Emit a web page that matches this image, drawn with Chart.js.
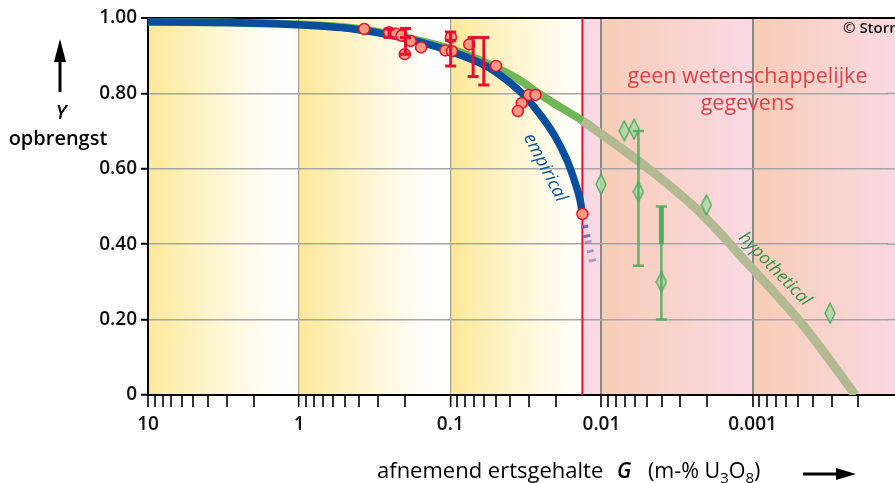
<!DOCTYPE html>
<html>
<head>
<meta charset="utf-8">
<script src="https://cdn.jsdelivr.net/npm/chart.js@4.4.1/dist/chart.umd.min.js"></script>
<style>
  html, body { margin: 0; padding: 0; background: #fff; }
  #wrap { width: 895px; height: 483px; }
</style>
</head>
<body>
<div id="wrap"><canvas id="chart" width="895" height="483"></canvas></div>
<script>
// ore grade G (m-% U3O8) on a reversed log axis, yield Y
const decadeValues = [10, 1, 0.1, 0.01, 0.001];
const decadeLabels = ['10', '1', '0.1', '0.01', '0.001'];
const yTickValues = [0, 0.2, 0.4, 0.6, 0.8, 1.0];
const yTickLabels = ['0', '0.20', '0.40', '0.60', '0.80', '1.00'];

const xMin = 0.000127;
const xMax = 10;
const cutoffGrade = 0.01336;

// empirical curve (blue)
const empiricalG = [10, 3, 1, 0.46, 0.22, 0.1, 0.0557, 0.0411, 0.0319, 0.0248, 0.0202, 0.0169, 0.0149, 0.01384, 0.01336];
const empiricalY = [0.99, 0.988, 0.982, 0.972, 0.95, 0.912, 0.869, 0.831, 0.791, 0.738, 0.685, 0.623, 0.562, 0.517, 0.48];

// hypothetical curve, green part and the part past the cut-off
const hypoG = [10, 3, 1, 0.46, 0.22, 0.1, 0.05, 0.0337, 0.0261, 0.01336];
const hypoY = [0.99, 0.988, 0.983, 0.974, 0.952, 0.918, 0.869, 0.832, 0.80, 0.728];
const hypoExtG = [0.01336, 0.00546, 0.0023, 0.00103, 0.000453, 0.000209];
const hypoExtY = [0.728, 0.615, 0.49, 0.34, 0.18, 0.0];

// dashed tail below the last measured point
const tailG = [0.01333, 0.0123, 0.0113];
const tailY = [0.475, 0.41, 0.345];

// measured points (red)
const measG = [0.371, 0.254, 0.228, 0.21, 0.183, 0.2, 0.156, 0.099, 0.1076, 0.0975, 0.0749, 0.0498, 0.0302, 0.0273, 0.0337, 0.0357, 0.01335];
const measY = [0.971, 0.962, 0.958, 0.953, 0.939, 0.904, 0.922, 0.949, 0.914, 0.912, 0.930, 0.873, 0.796, 0.796, 0.774, 0.753, 0.48];
const measErrG = [0.254, 0.1977, 0.0995, 0.0706, 0.06];
const measErrLo = [0.948, 0.904, 0.873, 0.845, 0.822];
const measErrHi = [0.971, 0.972, 0.963, 0.948, 0.948];
const measMidG = [0.1977, 0.0995];
const measMidY = [0.948, 0.94];

// claimed points (green diamonds)
const claimG = [0.01007, 0.00706, 0.00607, 0.00569, 0.00401, 0.00202, 0.000307];
const claimY = [0.559, 0.701, 0.705, 0.539, 0.30, 0.504, 0.217];
const claimErrG = [0.00569, 0.00401];
const claimErrLo = [0.343, 0.20];
const claimErrHi = [0.70, 0.50];
const claimBandG = [0.00401];
const claimBandLo = [0.40];
const claimBandHi = [0.50];

const FONT = "'Open Sans', 'DejaVu Sans', sans-serif";

function pts(gs, ys) {
  return gs.map((g, i) => ({ x: g, y: ys[i] }));
}

function makeDiamond() {
  const c = document.createElement('canvas');
  c.width = 12; c.height = 22;
  const g = c.getContext('2d');
  g.beginPath();
  g.moveTo(6, 1); g.lineTo(11, 11); g.lineTo(6, 21); g.lineTo(1, 11);
  g.closePath();
  g.fillStyle = 'rgba(172,216,164,0.85)';
  g.fill();
  g.strokeStyle = '#45a85a';
  g.lineWidth = 1.3;
  g.stroke();
  return c;
}

function isDecade(v) {
  return decadeValues.findIndex(d => Math.abs(d - v) / d < 1e-6);
}

const bands = {
  id: 'bands',
  beforeDraw(chart) {
    const { ctx, chartArea: a, scales: { x } } = chart;
    const right = chart.width;
    ctx.save();
    ctx.fillStyle = '#fff';
    ctx.fillRect(0, 0, chart.width, chart.height);
    const cut = x.getPixelForValue(cutoffGrade);
    [[10, 1], [1, 0.1], [0.1, 0.01]].forEach(([v0, v1]) => {
      const x0 = x.getPixelForValue(v0), x1 = x.getPixelForValue(v1);
      const g = ctx.createLinearGradient(x0, 0, x1, 0);
      g.addColorStop(0, 'rgb(253,232,152)');
      g.addColorStop(0.35, 'rgb(254,243,198)');
      g.addColorStop(0.8, 'rgb(255,254,248)');
      g.addColorStop(1, '#fff');
      ctx.fillStyle = g;
      ctx.fillRect(x0, a.top, Math.min(x1, cut) - x0, a.bottom - a.top);
    });
    ctx.fillStyle = 'rgb(249,217,228)';
    ctx.fillRect(cut, a.top, right - cut, a.bottom - a.top);
    [[0.01, 0.001], [0.001, 0.0001]].forEach(([v0, v1]) => {
      const x0 = x.getPixelForValue(v0), x1 = x.getPixelForValue(v1);
      const g = ctx.createLinearGradient(x0, 0, x1, 0);
      g.addColorStop(0, 'rgba(248,205,182,1)');
      g.addColorStop(1, 'rgba(248,205,182,0)');
      ctx.fillStyle = g;
      ctx.fillRect(x0, a.top, Math.min(x1, right) - x0, a.bottom - a.top);
    });
    ctx.restore();
  },
  beforeDatasetsDraw(chart) {
    const { ctx, chartArea: a, scales: { x, y } } = chart;
    const cut = x.getPixelForValue(cutoffGrade);
    ctx.save();
    // carry the frame and grid to the canvas edge
    yTickValues.forEach(v => {
      const py = y.getPixelForValue(v);
      const edge = v === 0 || v === 1;
      ctx.strokeStyle = edge ? '#000' : '#a6a6a6';
      ctx.lineWidth = edge ? 2 : 1.5;
      ctx.beginPath();
      ctx.moveTo(a.right - 1, py);
      ctx.lineTo(chart.width, py);
      ctx.stroke();
    });
    ctx.strokeStyle = '#e3102f';
    ctx.lineWidth = 2;
    ctx.beginPath();
    ctx.moveTo(cut, a.top);
    ctx.lineTo(cut, a.bottom);
    ctx.stroke();
    ctx.restore();
  }
};

function drawBars(chart, gs, lo, hi, color, width, cap) {
  const { ctx, scales: { x, y } } = chart;
  ctx.save();
  ctx.strokeStyle = color;
  ctx.lineWidth = width;
  gs.forEach((g, i) => {
    const px = x.getPixelForValue(g);
    const y0 = y.getPixelForValue(lo[i]), y1 = y.getPixelForValue(hi[i]);
    ctx.beginPath();
    ctx.moveTo(px, y0); ctx.lineTo(px, y1);
    if (cap) {
      ctx.moveTo(px - cap / 2, y0); ctx.lineTo(px + cap / 2, y0);
      ctx.moveTo(px - cap / 2, y1); ctx.lineTo(px + cap / 2, y1);
    }
    ctx.stroke();
  });
  ctx.restore();
}

const errorBars = {
  id: 'errorBars',
  afterDatasetsDraw(chart) {
    drawBars(chart, measErrG, measErrLo, measErrHi, '#e3102f', 3, 11);
    drawBars(chart, measMidG, measMidY, measMidY, '#e3102f', 3, 11);
    drawBars(chart, claimErrG, claimErrLo, claimErrHi, 'rgba(70,172,88,0.85)', 2.5, 11);
    drawBars(chart, claimBandG, claimBandLo, claimBandHi, 'rgba(70,172,88,0.85)', 5, 0);
  }
};

function rotatedText(ctx, text, px, py, deg, font, color) {
  ctx.save();
  ctx.translate(px, py);
  ctx.rotate(deg * Math.PI / 180);
  ctx.font = font;
  ctx.fillStyle = color;
  ctx.textAlign = 'center';
  ctx.textBaseline = 'middle';
  ctx.fillText(text, 0, 0);
  ctx.restore();
}

const texts = {
  id: 'texts',
  afterDraw(chart) {
    const { ctx, scales: { x, y } } = chart;
    ctx.save();
    // no-data note
    ctx.font = '21.5px ' + FONT;
    ctx.fillStyle = '#d8434b';
    ctx.textAlign = 'center';
    ctx.textBaseline = 'middle';
    ctx.fillText('geen wetenschappelijke', x.getPixelForValue(0.00108), y.getPixelForValue(0.843));
    ctx.fillText('gegevens', x.getPixelForValue(0.00108), y.getPixelForValue(0.771));

    // curve labels
    rotatedText(ctx, 'empirical', x.getPixelForValue(0.0236), y.getPixelForValue(0.603), 62.7,
      'italic 18px ' + FONT, '#0a52a0');
    rotatedText(ctx, 'hypothetical', x.getPixelForValue(0.000714), y.getPixelForValue(0.334), 45.8,
      'italic 17.5px ' + FONT, '#2f9447');

    // copyright
    ctx.font = '600 15px ' + FONT;
    ctx.fillStyle = '#111';
    ctx.textAlign = 'left';
    ctx.textBaseline = 'alphabetic';
    ctx.fillText('\u00A9 Storm van Leeuwen', 843, 33);

    // y title
    ctx.fillStyle = '#000';
    ctx.strokeStyle = '#000';
    ctx.lineWidth = 3;
    ctx.beginPath(); ctx.moveTo(60, 92); ctx.lineTo(60, 58); ctx.stroke();
    ctx.beginPath(); ctx.moveTo(60, 39); ctx.lineTo(54, 62); ctx.lineTo(66, 62); ctx.closePath(); ctx.fill();
    ctx.textAlign = 'center';
    ctx.textBaseline = 'middle';
    ctx.font = 'italic 600 20px ' + FONT;
    ctx.fillText('Y', 61, 113);
    ctx.font = '600 20px ' + FONT;
    ctx.fillText('opbrengst', 58, 139);

    // x title
    ctx.textAlign = 'left';
    ctx.textBaseline = 'alphabetic';
    const base = 478;
    ctx.font = '500 22px ' + FONT;
    ctx.fillText('afnemend ertsgehalte', 377, base);
    ctx.font = 'italic 600 21px ' + FONT;
    ctx.fillText('G', 617, base);
    let cx = 648;
    const parts = [['(m-% U', false], ['3', true], ['O', false], ['8', true], [')', false]];
    parts.forEach(([t, sub]) => {
      ctx.font = sub ? '500 15px ' + FONT : '500 21.5px ' + FONT;
      ctx.fillText(t, cx, sub ? base + 5 : base);
      cx += ctx.measureText(t).width;
    });
    ctx.lineWidth = 3;
    ctx.beginPath(); ctx.moveTo(803, 474); ctx.lineTo(840, 474); ctx.stroke();
    ctx.beginPath(); ctx.moveTo(856, 474); ctx.lineTo(836, 468); ctx.lineTo(836, 480); ctx.closePath(); ctx.fill();
    ctx.restore();
  }
};

const diamond = makeDiamond();

new Chart(document.getElementById('chart'), {
  type: 'scatter',
  data: {
    datasets: [
      {
        data: pts(measG, measY),
        pointRadius: 5.5,
        pointBackgroundColor: '#f39a80',
        pointBorderColor: '#e3122c',
        pointBorderWidth: 1.5,
        order: 0
      },
      {
        data: pts(claimG, claimY),
        pointStyle: diamond,
        order: 1
      },
      {
        type: 'line',
        data: pts(tailG, tailY),
        borderColor: 'rgba(112,96,168,0.9)',
        segment: {
          borderColor: c => (c.p0DataIndex === 0 ? 'rgba(112,96,168,0.9)' : 'rgba(112,96,168,0.55)')
        },
        borderWidth: 7,
        borderDash: [3, 6.5],
        borderCapStyle: 'butt',
        pointRadius: 0,
        order: 2
      },
      {
        type: 'line',
        data: pts(empiricalG, empiricalY),
        borderColor: '#0a4f9e',
        borderWidth: 7.5,
        cubicInterpolationMode: 'monotone',
        pointRadius: 0,
        order: 3
      },
      {
        type: 'line',
        data: pts(hypoG, hypoY),
        borderColor: '#70b656',
        borderWidth: 8,
        cubicInterpolationMode: 'monotone',
        pointRadius: 0,
        order: 4
      },
      {
        type: 'line',
        data: pts(hypoExtG, hypoExtY),
        borderColor: '#b3ba92',
        borderWidth: 9,
        cubicInterpolationMode: 'monotone',
        pointRadius: 0,
        order: 5
      }
    ]
  },
  options: {
    responsive: false,
    animation: false,
    devicePixelRatio: 1,
    layout: { padding: { top: 18, left: 0, right: 0, bottom: 0 } },
    plugins: { legend: { display: false }, tooltip: { enabled: false } },
    scales: {
      x: {
        type: 'logarithmic',
        reverse: true,
        bounds: 'data',
        min: xMin,
        max: xMax,
        afterFit(scale) {
          scale.height = 88;
          scale.paddingLeft = 0;
          scale.paddingRight = 0;
        },
        afterBuildTicks(scale) {
          const list = [];
          [1, 0.1, 0.01, 0.001, 0.0001].forEach(d => {
            for (let m = 10; m >= 1; m--) {
              const v = +(d * m).toPrecision(6);
              if (v >= xMin && v <= xMax && !list.some(t => Math.abs(t.value - v) / v < 1e-9)) {
                list.push({ value: v });
              }
            }
          });
          scale.ticks = list;
        },
        border: { display: true, color: '#000', width: 2 },
        grid: {
          color: c => {
            const i = isDecade(c.tick.value);
            if (i <= 0) return 'rgba(0,0,0,0)';
            return i <= 2 ? '#aaa69a' : '#8a8a8a';
          },
          lineWidth: c => {
            const i = isDecade(c.tick.value);
            return i <= 0 ? 0 : (i <= 2 ? 1.3 : 2);
          },
          tickColor: '#000',
          tickWidth: 1.6,
          tickLength: 12,
          drawTicks: true
        },
        ticks: {
          autoSkip: false,
          maxRotation: 0,
          padding: 6,
          color: '#111',
          font: { family: FONT, size: 19, weight: '600' },
          callback: v => {
            const i = isDecade(v);
            return i >= 0 ? decadeLabels[i] : '';
          }
        }
      },
      y: {
        min: 0,
        max: 1,
        afterFit(scale) {
          scale.width = 148;
          scale.paddingTop = 0;
          scale.paddingBottom = 0;
        },
        afterBuildTicks(scale) {
          scale.ticks = yTickValues.map(v => ({ value: v }));
        },
        border: { display: true, color: '#000', width: 2 },
        grid: {
          color: c => (c.tick.value === 1 ? '#000' : c.tick.value === 0 ? 'rgba(0,0,0,0)' : '#a6a6a6'),
          lineWidth: c => (c.tick.value === 1 ? 2 : 1.5),
          tickColor: '#000',
          tickWidth: 2,
          tickLength: 7
        },
        ticks: {
          padding: 4,
          color: '#111',
          font: { family: FONT, size: 19, weight: '600' },
          callback: (v, i) => yTickLabels[i]
        }
      }
    }
  },
  plugins: [bands, errorBars, texts]
});
</script>
</body>
</html>
